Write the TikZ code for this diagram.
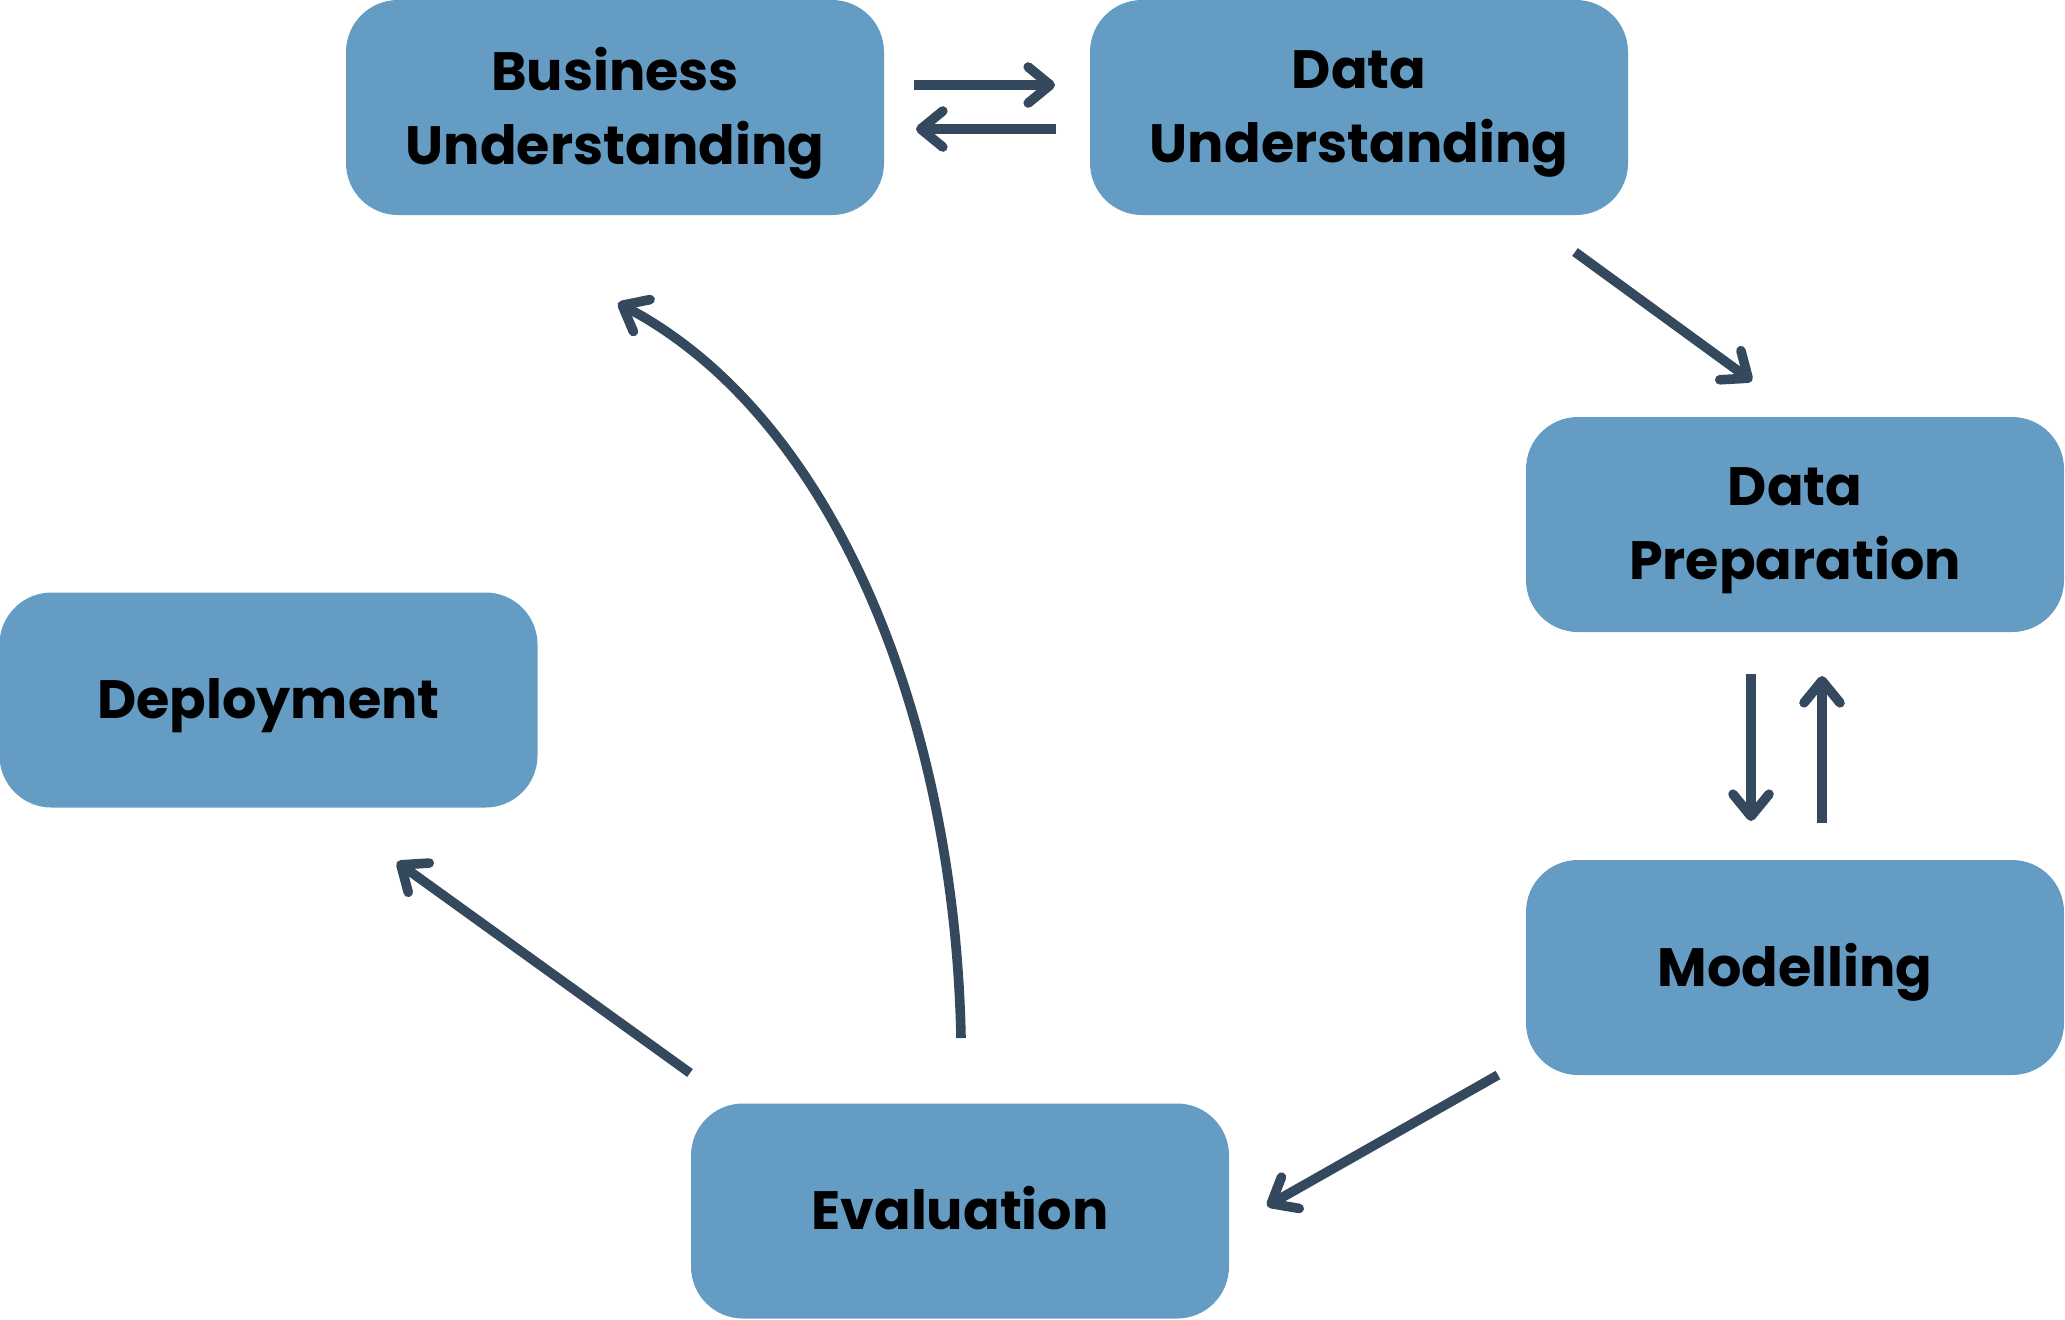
\documentclass[tikz,border=0pt]{standalone}
\usepackage{fontspec}
\setmainfont{Poppins}
\usetikzlibrary{arrows.meta}
\definecolor{boxblue}{RGB}{100,156,195}
\definecolor{arrowc}{RGB}{52,73,94}
\begin{document}
\begin{tikzpicture}[x=0.5pt,y=-0.5pt,
  stage/.style={fill=boxblue, rounded corners=26pt, minimum width=269pt, minimum height=107.5pt,
    inner sep=0pt},
  stagetext/.style={inner sep=0pt, align=center, font=\fontsize{27}{37}\selectfont\bfseries, text=black},
  oneline/.style={stagetext, text height=18.8pt, text depth=0pt},
  flow/.style={draw=arrowc, line width=4.8pt, -{Straight Barb[length=11pt,width=18pt,round]}}]
\useasboundingbox (0,0) rectangle (2065,1319);
\node[stage] (bu) at (615,107.5) {};
\node[stage] (du) at (1359,107.5) {};
\node[stage] (dp) at (1795,524.5) {};
\node[stage] (mo) at (1795,967.5) {};
\node[stage] (ev) at (960,1211) {};
\node[stage] (de) at (268.5,700) {};
\node[stagetext] (bu-t) at ([yshift=-3pt]bu.center) {Business\\Understanding};
\node[stagetext] (du-t) at ([yshift=-3pt]du.center) {Data\\Understanding};
\node[stagetext] (dp-t) at ([yshift=-3pt]dp.center) {Data\\Preparation};
\node[oneline] (mo-t) at (mo.center) {Modelling};
\node[oneline] (ev-t) at (ev.center) {Evaluation};
\node[oneline] (de-t) at (de.center) {Deployment};
% connector end points
\coordinate (a1s) at (914,85);  \coordinate (a1e) at (1055,85);
\coordinate (a2s) at (1056,129); \coordinate (a2e) at (916,129);
\coordinate (a3s) at (1575,252); \coordinate (a3e) at (1752,381);
\coordinate (a4s) at (1751,674); \coordinate (a4e) at (1751,821);
\coordinate (a5s) at (1822,823); \coordinate (a5e) at (1822,676);
\coordinate (a6s) at (1498,1075); \coordinate (a6e) at (1267,1206);
\coordinate (a7s) at (690,1073); \coordinate (a7e) at (397,862);
\coordinate (a8s) at (961,1038); \coordinate (a8e) at (618,303);
\draw[flow] (a1s) -- (a1e);
\draw[flow] (a2s) -- (a2e);
\draw[flow] (a3s) -- (a3e);
\draw[flow] (a4s) -- (a4e);
\draw[flow] (a5s) -- (a5e);
\draw[flow] (a6s) -- (a6e);
\draw[flow] (a7s) -- (a7e);
\draw[flow] (a8s) .. controls (955,730) and (840,420) .. (a8e);
\end{tikzpicture}
\end{document}
